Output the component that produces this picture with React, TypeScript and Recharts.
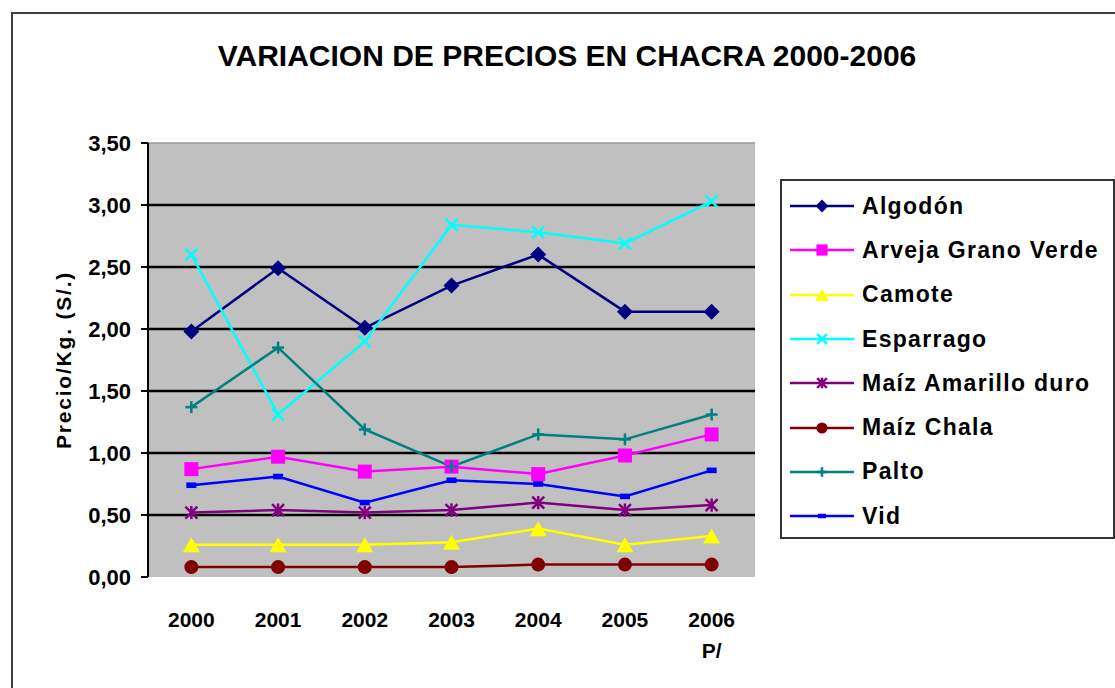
import React from 'react';
import { LineChart, Line, XAxis, YAxis, CartesianGrid, ReferenceLine } from 'recharts';

const years = ['2000', '2001', '2002', '2003', '2004', '2005', '2006'];

const algodon = [1.98, 2.49, 2.01, 2.35, 2.6, 2.14, 2.14];
const arveja = [0.87, 0.97, 0.85, 0.89, 0.83, 0.98, 1.15];
const camote = [0.26, 0.26, 0.26, 0.28, 0.39, 0.26, 0.33];
const esparrago = [2.6, 1.31, 1.9, 2.84, 2.78, 2.69, 3.03];
const maizAmarillo = [0.52, 0.54, 0.52, 0.54, 0.6, 0.54, 0.58];
const maizChala = [0.08, 0.08, 0.08, 0.08, 0.1, 0.1, 0.1];
const palto = [1.37, 1.85, 1.19, 0.89, 1.15, 1.11, 1.31];
const vid = [0.74, 0.81, 0.6, 0.78, 0.75, 0.65, 0.86];

const yTicks = [0, 0.5, 1, 1.5, 2, 2.5, 3, 3.5];
const gridValues = [0.5, 1, 1.5, 2, 2.5, 3];
const boundaryTicks = [0, 1, 2, 3, 4, 5, 6, 7];

type Shape = 'diamond' | 'square' | 'triangle' | 'x' | 'star' | 'circle' | 'plus' | 'dash';

const series: { key: string; name: string; color: string; shape: Shape; values: number[] }[] = [
  { key: 'algodon', name: 'Algodón', color: '#000080', shape: 'diamond', values: algodon },
  { key: 'arveja', name: 'Arveja Grano Verde', color: '#ff00ff', shape: 'square', values: arveja },
  { key: 'camote', name: 'Camote', color: '#ffff00', shape: 'triangle', values: camote },
  { key: 'esparrago', name: 'Esparrago', color: '#00ffff', shape: 'x', values: esparrago },
  { key: 'maizAmarillo', name: 'Maíz Amarillo duro', color: '#800080', shape: 'star', values: maizAmarillo },
  { key: 'maizChala', name: 'Maíz Chala', color: '#800000', shape: 'circle', values: maizChala },
  { key: 'palto', name: 'Palto', color: '#008080', shape: 'plus', values: palto },
  { key: 'vid', name: 'Vid', color: '#0000ff', shape: 'dash', values: vid },
];

const data = years.map((year, i) => {
  const row: Record<string, string | number> = { year };
  series.forEach((s) => {
    row[s.key] = s.values[i];
  });
  return row;
});

const FONT = '"Liberation Sans", Arial, sans-serif';

function marker(shape: Shape, cx: number, cy: number, color: string, k = 1, key?: string) {
  switch (shape) {
    case 'diamond': {
      const r = 8 * k;
      return <polygon key={key} points={`${cx},${cy - r} ${cx + r},${cy} ${cx},${cy + r} ${cx - r},${cy}`} fill={color} />;
    }
    case 'square': {
      const r = 7 * k;
      return <rect key={key} x={cx - r} y={cy - r} width={2 * r} height={2 * r} fill={color} />;
    }
    case 'triangle': {
      const w = 8.5 * k;
      const h = 7.5 * k;
      return <polygon key={key} points={`${cx},${cy - h} ${cx + w},${cy + h} ${cx - w},${cy + h}`} fill={color} />;
    }
    case 'circle':
      return <circle key={key} cx={cx} cy={cy} r={7 * k} fill={color} />;
    case 'x': {
      const r = 6 * k;
      return (
        <g key={key} stroke={color} strokeWidth={2.5}>
          <line x1={cx - r} y1={cy - r} x2={cx + r} y2={cy + r} />
          <line x1={cx - r} y1={cy + r} x2={cx + r} y2={cy - r} />
        </g>
      );
    }
    case 'star': {
      const r = 6 * k;
      return (
        <g key={key} stroke={color} strokeWidth={2.5}>
          <line x1={cx - r} y1={cy - r} x2={cx + r} y2={cy + r} />
          <line x1={cx - r} y1={cy + r} x2={cx + r} y2={cy - r} />
          <line x1={cx} y1={cy - r * 1.1} x2={cx} y2={cy + r * 1.1} />
        </g>
      );
    }
    case 'plus': {
      const r = 6 * k;
      return (
        <g key={key} stroke={color} strokeWidth={2.5}>
          <line x1={cx - r} y1={cy} x2={cx + r} y2={cy} />
          <line x1={cx} y1={cy - r} x2={cx} y2={cy + r} />
        </g>
      );
    }
    case 'dash':
    default:
      return <rect key={key} x={cx - 5 * k} y={cy - 2.8 * k} width={10 * k} height={5.6 * k} fill={color} />;
  }
}

const XTick = (props: any) => {
  const { x, y, payload } = props;
  return (
    <g>
      <text x={x} y={y} dy={42} textAnchor="middle" fontFamily={FONT} fontSize={21} fontWeight="bold" fill="#000">
        {payload.value}
      </text>
      {payload.value === '2006' && (
        <text x={x} y={y} dy={73} textAnchor="middle" fontFamily={FONT} fontSize={21} fontWeight="bold" fill="#000">
          P/
        </text>
      )}
    </g>
  );
};

const YLabel = () => (
  <text
    x={63}
    y={360}
    transform="rotate(-90 63 360)"
    textAnchor="middle"
    dominantBaseline="central"
    fontFamily={FONT}
    fontSize={21}
    fontWeight="bold"
    letterSpacing={1.8}
    fill="#000"
  >
    Precio/Kg. (S/.)
  </text>
);

export default function App() {
  return (
    <div style={{ position: 'absolute', left: 0, top: 0, width: 1115, height: 688, overflow: 'hidden', background: '#fff' }}>
      <div
        style={{
          position: 'absolute',
          left: 11,
          top: 12,
          width: 1200,
          height: 800,
          border: '2px solid #404040',
        }}
      />
      <div
        style={{
          position: 'absolute',
          left: 567,
          top: 41,
          transform: 'translateX(-50%)',
          whiteSpace: 'nowrap',
          fontFamily: FONT,
          fontSize: 30,
          lineHeight: '30px',
          fontWeight: 'bold',
          color: '#000',
        }}
      >
        VARIACION DE PRECIOS EN CHACRA 2000-2006
      </div>

      <div style={{ position: 'absolute', left: 0, top: 0 }}>
        <LineChart width={1115} height={688} data={data} margin={{ top: 143, right: 360, bottom: 0, left: 0 }}>
          <CartesianGrid horizontal={false} vertical={false} fill="#c0c0c0" />
          <XAxis
            xAxisId="b"
            type="number"
            domain={[0, 7]}
            ticks={boundaryTicks}
            allowDataOverflow
            tick={false}
            height={0}
            tickSize={7}
            axisLine={{ stroke: '#000', strokeWidth: 2 }}
            tickLine={{ stroke: '#000', strokeWidth: 2 }}
          />
          <XAxis
            dataKey="year"
            scale="band"
            height={111}
            axisLine={false}
            tickLine={false}
            interval={0}
            tick={<XTick />}
          />
          <YAxis
            domain={[0, 3.5]}
            ticks={yTicks}
            interval={0}
            width={148}
            tickSize={7}
            tickMargin={10}
            tickFormatter={(v: number) => v.toFixed(2).replace('.', ',')}
            tick={{ fontFamily: FONT, fontSize: 22, fontWeight: 'bold', fill: '#000' }}
            axisLine={{ stroke: '#000', strokeWidth: 2 }}
            tickLine={{ stroke: '#000', strokeWidth: 2 }}
            label={{ content: () => <YLabel /> }}
          />
          <ReferenceLine y={3.5} stroke="#9a9a9a" strokeWidth={1.5} />
          <ReferenceLine xAxisId="b" x={7} stroke="#9a9a9a" strokeWidth={1.5} />
          {gridValues.map((v) => (
            <ReferenceLine key={v} y={v} stroke="#000" strokeWidth={2.5} />
          ))}
          {series.map((s) => (
            <Line
              key={s.key}
              type="linear"
              dataKey={s.key}
              name={s.name}
              stroke={s.color}
              strokeWidth={2.5}
              isAnimationActive={false}
              dot={(p: any) => marker(s.shape, p.cx, p.cy, s.color, 1, `${s.key}-${p.index}`)}
              activeDot={false}
            />
          ))}
        </LineChart>
      </div>

      <div
        style={{
          position: 'absolute',
          left: 780,
          top: 179,
          width: 331,
          height: 353,
          border: '2px solid #333',
          background: '#fff',
          paddingTop: 3,
          boxSizing: 'content-box',
        }}
      >
        {series.map((s) => (
          <div key={s.key} style={{ display: 'flex', alignItems: 'center', height: 44.3 }}>
            <svg width={64} height={24} style={{ marginLeft: 8, flex: 'none' }}>
              <line x1={0} y1={12} x2={64} y2={12} stroke={s.color} strokeWidth={2.5} />
              {marker(s.shape, 32, 12, s.color, 0.8)}
            </svg>
            <span
              style={{
                marginLeft: 8,
                fontFamily: FONT,
                fontSize: 23,
                fontWeight: 'bold',
                letterSpacing: 1.3,
                color: '#000',
                whiteSpace: 'nowrap',
              }}
            >
              {s.name}
            </span>
          </div>
        ))}
      </div>
    </div>
  );
}
